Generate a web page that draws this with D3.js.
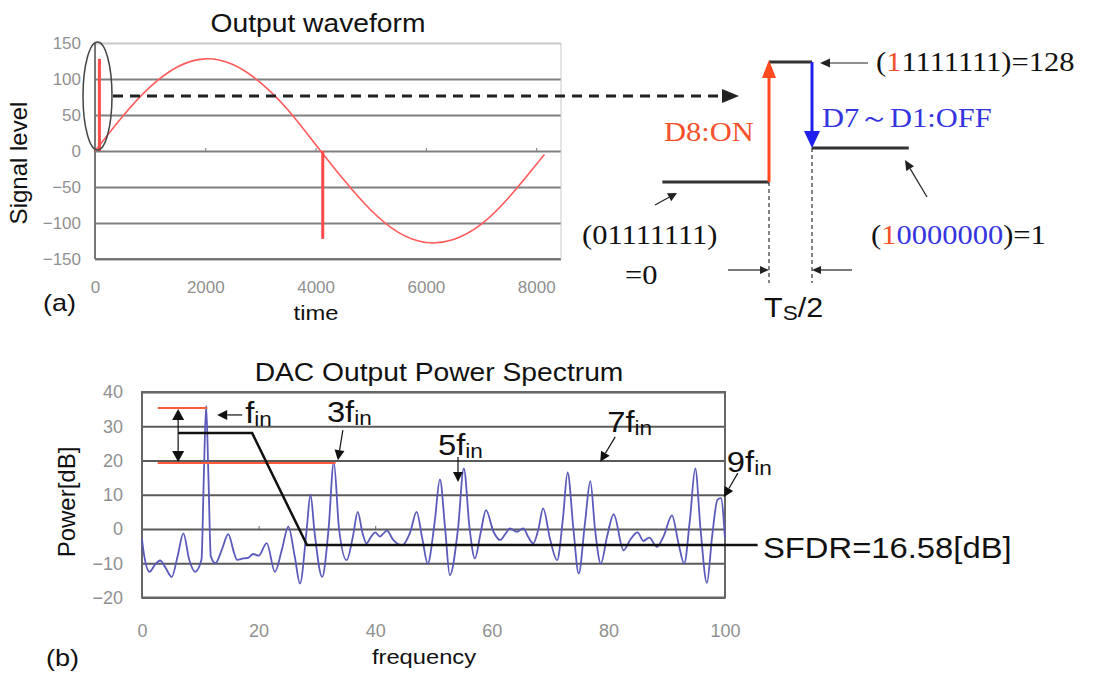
<!DOCTYPE html>
<html>
<head>
<meta charset="utf-8">
<script src="https://cdn.jsdelivr.net/npm/d3@7"></script>
<style>
  body { margin: 0; background: #fff; }
  text { font-family: "Liberation Sans", Arial, sans-serif; fill: #111; }
  .serif { font-family: "Liberation Serif", "Times New Roman", serif; }
  .tick text { fill: #909090; font-size: 17px; }
</style>
</head>
<body>
<div id="chart"></div>
<script>
// ---- (a) output waveform ----
var timeTicks = [0, 2000, 4000, 6000, 8000];
var levelTicks = [150, 100, 50, 0, -50, -100, -150];
var waveTime  = [0, 500, 1000, 1500, 2000, 2500, 3000, 3500, 4000, 4500, 5000, 5500, 6000, 6500, 7000, 7500, 8000, 8150];
var waveLevel = [0, 48, 89, 117, 128, 120, 95, 57, 9, -39, -82, -113, -127, -123, -102, -65, -19, -5];
var glitchTime = [80, 4130];
var glitchLevel = [128, -122];

// ---- (b) spectrum ----
var freqTicks = [0, 20, 40, 60, 80, 100];
var powerTicks = [40, 30, 20, 10, 0, -10, -20];
var specFreq = [0, 0.4, 1.3, 2.2, 3.1, 4.1, 5.1, 6.1, 7.1, 8.1, 9.1, 10.2, 10.6, 11.0, 11.4, 11.8, 12.6, 13.7, 14.8, 15.8,
  16.3, 17.4, 18.2, 19.1, 20.0, 21.4, 22.8, 24.0, 25.1, 26.2, 27.1, 28.2, 28.9, 29.6, 30.9, 32.0, 32.9, 33.8, 35.1, 36.2,
  37.0, 37.8, 38.5, 39.2, 40.0, 40.8, 41.3, 42.0, 43.1, 44.6, 46.0, 47.1, 48.1, 49.0, 50.2, 51.1, 52.0, 52.8, 54.2, 55.2,
  56.2, 57.1, 58.1, 59.0, 60.3, 61.4, 62.3, 63.1, 64.3, 65.4, 66.3, 67.1, 68.0, 68.8, 70.0, 71.2, 72.2, 73.0, 74.0, 74.9,
  76.0, 76.9, 77.7, 78.7, 79.8, 80.9, 82.6, 83.8, 85.0, 86.0, 87.0, 88.3, 89.5, 90.9, 92.0, 93.0, 94.0, 94.9, 95.8, 96.9,
  97.8, 98.7, 99.3, 100];
var specPower = [-3, -8, -12.5, -10.5, -9.2, -11.5, -14, -8, -1.3, -9, -12.5, -9, 15, 36, 15, -8, -10, -6, -1.5, -7,
  -9, -8.6, -8.4, -7.3, -7.8, -4.1, -12.5, -6, 0.7, -8, -15.9, -1, 10, -1, -14, 0, 19.5, 0, -9.1, -2,
  5, -1, -4.2, -2.5, -1, -2.2, -1.5, -0.5, -3.2, -4.8, -1, 5, -3, -10.1, 2, 14.5, 0, -13.5, 0, 17.7,
  0, -8.6, -1, 5.5, -0.8, -3.2, -1.5, 0.2, -0.8, 0.2, -2.5, -4.2, 0, 6, -3, -9.1, 3, 16.5, 0, -13,
  2, 14, 0, -10.1, -2, 4.3, -6.2, -3, -1, -3.5, -2.5, -5.2, -2, 4, -4, -10.1, 3, 17.7, 0, -15.7,
  -2, 8.5, 9, -3];
var fundamentalDb = 35.3;
var thirdDb = 19.3;
var maskFreq = [6.2, 18.9, 28.3, 105.6];
var maskDb = [28, 28, -4.7, -4.7];
var harmonicNames = ["", "3", "5", "7", "9"];
var harmonicFreq = [12.9, 33.6, 54.2, 78.6, 99.8];
var harmonicDb = [33.3, 20.1, 13.7, 19.6, 9.3];

var SX = 1.13; // the source figure is stretched sideways
var svg = d3.select("#chart").append("svg").attr("width", 1093).attr("height", 675);

function txt(g, x, y, str, size, anchor) {
  return g.append("text")
    .attr("transform", "translate(" + x + "," + y + ") scale(" + SX + ",1)")
    .attr("font-size", size)
    .attr("text-anchor", anchor || "start")
    .text(str);
}

function arrow(g, x1, y1, x2, y2, len, half, color, width) {
  var a = Math.atan2(y2 - y1, x2 - x1);
  var bx = x2 - len * Math.cos(a), by = y2 - len * Math.sin(a);
  var px = -Math.sin(a) * half, py = Math.cos(a) * half;
  g.append("line").attr("x1", x1).attr("y1", y1).attr("x2", bx).attr("y2", by)
    .attr("stroke", color).attr("stroke-width", width);
  g.append("path")
    .attr("d", "M" + x2 + "," + y2 + "L" + (bx + px) + "," + (by + py) + "L" + (bx - px) + "," + (by - py) + "Z")
    .attr("fill", color);
}

// ================= (a) =================
var xT = d3.scaleLinear().domain([0, 8450]).range([95, 561]);
var yT = d3.scaleLinear().domain([-150, 150]).range([259, 43]);
var gTop = svg.append("g");

gTop.append("g")
  .call(d3.axisLeft(yT).tickValues(levelTicks).tickFormat(d3.format("d")).tickSize(-(561 - 95)).tickPadding(14))
  .attr("transform", "translate(95,0)")
  .call(function(g) {
    g.select(".domain").remove();
    g.selectAll(".tick line").attr("stroke", function(d) { return d === 150 ? "#c8c8c8" : "#808080"; })
      .attr("stroke-width", 2);
  });

gTop.append("g")
  .attr("transform", "translate(0,259)")
  .call(d3.axisBottom(xT).tickValues(timeTicks).tickFormat(d3.format("d")).tickSize(0).tickPadding(22))
  .call(function(g) { g.select(".domain").remove(); });

gTop.append("g")
  .attr("transform", "translate(0," + yT(0) + ")")
  .call(d3.axisTop(xT).tickValues(timeTicks.slice(1)).tickSize(3).tickFormat(""))
  .call(function(g) { g.select(".domain").remove(); g.selectAll("line").attr("stroke", "#777"); });

gTop.append("line").attr("x1", 95).attr("x2", 95).attr("y1", 43).attr("y2", 259).attr("stroke", "#777").attr("stroke-width", 2);
gTop.append("line").attr("x1", 95).attr("x2", 561).attr("y1", 259).attr("y2", 259).attr("stroke", "#777").attr("stroke-width", 2);
gTop.append("line").attr("x1", 561).attr("x2", 561).attr("y1", 43).attr("y2", 259).attr("stroke", "#c8c8c8").attr("stroke-width", 1);

var wave = d3.line().x(function(d) { return xT(d[0]); }).y(function(d) { return yT(d[1]); }).curve(d3.curveNatural);
gTop.append("path").datum(d3.zip(waveTime, waveLevel)).attr("d", wave)
  .attr("fill", "none").attr("stroke", "#ff5a5a").attr("stroke-width", 1.6);

gTop.selectAll(".glitch").data(d3.zip(glitchTime, glitchLevel)).enter().append("line")
  .attr("x1", function(d) { return xT(d[0]); }).attr("x2", function(d) { return xT(d[0]); })
  .attr("y1", yT(0)).attr("y2", function(d) { return yT(d[1]); })
  .attr("stroke", "#ff4a4a").attr("stroke-width", 3);

gTop.append("ellipse").attr("cx", 97.5).attr("cy", 96).attr("rx", 14.5).attr("ry", 54)
  .attr("fill", "none").attr("stroke", "#444").attr("stroke-width", 1.5);

txt(svg, 318, 32, "Output waveform", 25, "middle");
svg.append("text").attr("transform", "translate(27,163) rotate(-90)").attr("font-size", 24)
  .attr("text-anchor", "middle").text("Signal level");
txt(svg, 43, 311, "(a)", 24);
txt(svg, 316, 320, "time", 21, "middle");

// dashed pointer to the zoomed view
var dash = svg.append("g");
dash.append("line").attr("x1", 113).attr("x2", 722).attr("y1", 96).attr("y2", 96)
  .attr("stroke", "#222").attr("stroke-width", 3).attr("stroke-dasharray", "10,7");
arrow(dash, 700, 96, 739, 96, 17, 7, "#222", 0);

// ================= zoomed code transition =================
var xS = d3.scaleLinear().domain([0, 1]).range([769, 812]);          // units of Ts/2
var yS = d3.scaleOrdinal().domain(["0", "1", "128"]).range([182, 148, 62]);
var sch = svg.append("g");
sch.append("line").attr("x1", xS(-2.48)).attr("x2", xS(0)).attr("y1", yS("0")).attr("y2", yS("0")).attr("stroke", "#333").attr("stroke-width", 3);
sch.append("line").attr("x1", xS(0)).attr("x2", xS(1)).attr("y1", yS("128")).attr("y2", yS("128")).attr("stroke", "#333").attr("stroke-width", 3);
sch.append("line").attr("x1", xS(1)).attr("x2", xS(3.25)).attr("y1", yS("1")).attr("y2", yS("1")).attr("stroke", "#333").attr("stroke-width", 3);
arrow(sch, xS(0), yS("0"), xS(0), yS("128") - 2, 18, 7, "#ff4a1e", 3);
arrow(sch, xS(1), yS("128"), xS(1), yS("1"), 17, 8, "#2020ee", 3);

sch.append("line").attr("x1", xS(0)).attr("x2", xS(0)).attr("y1", yS("0")).attr("y2", 283)
  .attr("stroke", "#333").attr("stroke-width", 1.2).attr("stroke-dasharray", "4,3");
sch.append("line").attr("x1", xS(1)).attr("x2", xS(1)).attr("y1", yS("1")).attr("y2", 283)
  .attr("stroke", "#333").attr("stroke-width", 1.2).attr("stroke-dasharray", "4,3");
arrow(sch, 728, 270, xS(0), 270, 9, 4, "#222", 1.2);
arrow(sch, 852, 270, xS(1), 270, 9, 4, "#222", 1.2);
arrow(sch, 868, 63, 820, 63, 10, 4.5, "#222", 1.2);
arrow(sch, 655, 205, 677, 193, 9, 4.5, "#222", 1.2);
arrow(sch, 927, 197, 905, 160, 10, 4.5, "#222", 1.2);

txt(sch, 664, 141, "D8:ON", 27).attr("class", "serif").style("fill", "#f5502a");
txt(sch, 822, 127, "D7～D1:OFF", 27).attr("class", "serif").style("fill", "#3535e0");
var t128 = txt(sch, 876, 71, "", 27).attr("class", "serif");
t128.append("tspan").text("(");
t128.append("tspan").style("fill", "#f5502a").text("1");
t128.append("tspan").text("1111111)=128");
txt(sch, 582, 244, "(01111111)", 27).attr("class", "serif");
txt(sch, 625, 284, "=0", 27).attr("class", "serif");
var t1 = txt(sch, 871, 244, "", 27).attr("class", "serif");
t1.append("tspan").text("(");
t1.append("tspan").style("fill", "#f5502a").text("1");
t1.append("tspan").style("fill", "#3535e0").text("0000000");
t1.append("tspan").text(")=1");
var ts = txt(sch, 764, 317, "", 27);
ts.append("tspan").text("T");
ts.append("tspan").attr("font-size", 20).attr("dy", 3).text("S");
ts.append("tspan").attr("dy", -3).text("/2");

// ================= (b) =================
var xB = d3.scaleLinear().domain([0, 100]).range([142, 725]);
var yB = d3.scaleLinear().domain([-20, 40]).range([597.5, 392]);
var gBot = svg.append("g");

gBot.append("g")
  .attr("transform", "translate(142,0)")
  .call(d3.axisLeft(yB).tickValues(powerTicks).tickFormat(d3.format("d")).tickSize(-(725 - 142)).tickPadding(19))
  .call(function(g) {
    g.select(".domain").remove();
    g.selectAll(".tick line").attr("stroke", "#5a5a5a").attr("stroke-width", 2);
    g.selectAll(".tick text").style("font-size", "18px");
  });
gBot.append("g")
  .attr("transform", "translate(0,597.5)")
  .call(d3.axisBottom(xB).tickValues(freqTicks).tickFormat(d3.format("d")).tickSize(0).tickPadding(27))
  .call(function(g) { g.select(".domain").remove(); g.selectAll(".tick text").style("font-size", "18px"); });
gBot.append("g")
  .attr("transform", "translate(0," + yB(0) + ")")
  .call(d3.axisTop(xB).tickValues([20, 40, 60, 80]).tickSize(3).tickFormat(""))
  .call(function(g) { g.select(".domain").remove(); g.selectAll("line").attr("stroke", "#666"); });
gBot.append("rect").attr("x", 142).attr("y", 392).attr("width", 725 - 142).attr("height", 597.5 - 392)
  .attr("fill", "none").attr("stroke", "#666").attr("stroke-width", 2);

var spec = d3.line().x(function(d) { return xB(d[0]); }).y(function(d) { return yB(d[1]); }).curve(d3.curveMonotoneX);
gBot.append("path").datum(d3.zip(specFreq, specPower)).attr("d", spec)
  .attr("fill", "none").attr("stroke", "#5a5abb").attr("stroke-width", 1.8);

// SFDR markers
gBot.append("line").attr("x1", xB(2.7)).attr("x2", xB(11.2)).attr("y1", yB(fundamentalDb)).attr("y2", yB(fundamentalDb))
  .attr("stroke", "#ff5a3a").attr("stroke-width", 2);
gBot.append("line").attr("x1", xB(2.7)).attr("x2", xB(33.2)).attr("y1", yB(thirdDb)).attr("y2", yB(thirdDb))
  .attr("stroke", "#ff5a3a").attr("stroke-width", 2);
var midDb = (fundamentalDb + thirdDb) / 2;
arrow(gBot, xB(6.2), yB(midDb), xB(6.2), yB(fundamentalDb) + 1, 11, 6, "#111", 1.2);
arrow(gBot, xB(6.2), yB(midDb), xB(6.2), yB(thirdDb) - 1, 11, 6, "#111", 1.2);

var mask = d3.line().x(function(d) { return xB(d[0]); }).y(function(d) { return yB(d[1]); });
gBot.append("path").datum(d3.zip(maskFreq, maskDb)).attr("d", mask)
  .attr("fill", "none").attr("stroke", "#111").attr("stroke-width", 2.5);

// harmonic labels: tail offset and text offset from each arrow tip
var tailDx = [25, 5, 0, 15, 14], tailDy = [0, -30, -25, -25, -24];
var textDx = [28, -11, -20, 7, 3], textDy = [8, -38, -27, -30, -25];
harmonicNames.forEach(function(n, i) {
  var tx = xB(harmonicFreq[i]), ty = yB(harmonicDb[i]);
  arrow(gBot, tx + tailDx[i], ty + tailDy[i], tx, ty, 10, 5, "#111", 1.2);
  var t = txt(gBot, tx + textDx[i], ty + textDy[i], "", 29);
  t.append("tspan").text(n + "f");
  t.append("tspan").attr("font-size", 20).attr("dy", 3).text("in");
});

txt(svg, 763, 558, "SFDR=16.58[dB]", 29);
txt(svg, 439, 381, "DAC Output Power Spectrum", 25, "middle");
svg.append("text").attr("transform", "translate(75,502) rotate(-90)").attr("font-size", 24)
  .attr("text-anchor", "middle").text("Power[dB]");
txt(svg, 46, 666, "(b)", 24);
txt(svg, 424, 664, "frequency", 21, "middle");
</script>
</body>
</html>
